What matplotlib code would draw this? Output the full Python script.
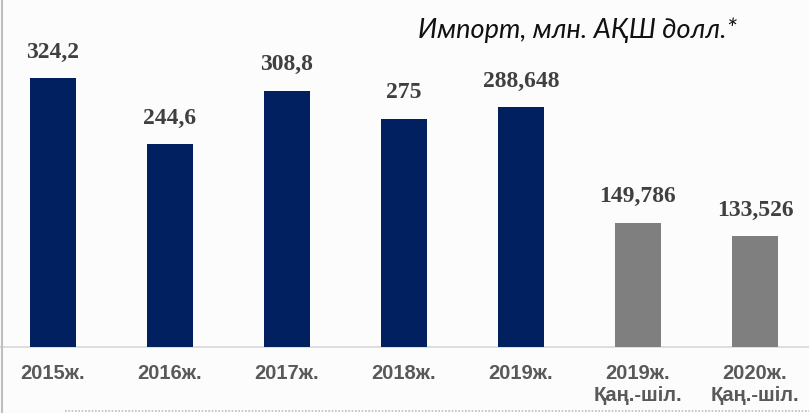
import numpy as np
import matplotlib.pyplot as plt

# Data
categories = ['2015ж.', '2016ж.', '2017ж.', '2018ж.', '2019ж.', '2019ж.\nҚаң.-шіл.', '2020ж.\nҚаң.-шіл.']
values = [324.2, 244.6, 308.8, 275, 288.648, 149.786, 133.526]
labels = ['324,2', '244,6', '308,8', '275', '288,648', '149,786', '133,526']
colors = ['#002060'] * 5 + ['#7f7f7f'] * 2

fig = plt.figure(figsize=(8.09, 4.13), dpi=100)
fig.patch.set_facecolor('#fcfcfc')
ax = fig.add_axes([0, 0, 1, 1])
ax.set_facecolor('#fcfcfc')

x = np.arange(len(values))
ax.bar(x, values, width=0.393, color=colors, zorder=3)

# Value labels
for xi, v, lab in zip(x, values, labels):
    ax.annotate(lab, (xi, v), textcoords='offset points', xytext=(0, 11),
                ha='center', va='bottom', fontsize=17, fontweight='bold',
                family='Liberation Serif', color='#404040')

# Category labels
for xi, cat in zip(x, categories):
    ax.text(xi, -20.5, cat, ha='center', va='top', fontsize=14.5, fontweight='bold',
            family='Liberation Sans', color='#595959', linespacing=1.2)

ax.set_xlim(-0.453, 6.462)
ax.set_ylim(-79.5, 418)
ax.axhline(0, color='#d9d9d9', linewidth=1.2, zorder=2)
for s in ax.spines.values():
    s.set_visible(False)
ax.set_xticks([])
ax.set_yticks([])

# Title
fig.text(0.911, 0.927, 'Импорт, млн. АҚШ долл.*', ha='right', va='center',
         fontsize=19.5, style='italic', family='Lato', color='#111111')

# Frame lines
fig.add_artist(plt.Line2D([0.003, 0.003], [0, 1], color='#bfbfbf', linewidth=1.5))
fig.add_artist(plt.Line2D([0.08, 1], [0.005, 0.005], color='#bfbfbf', linewidth=1.2, linestyle=(0, (1, 1))))

fig.savefig('out.png', dpi=100, facecolor=fig.get_facecolor())
